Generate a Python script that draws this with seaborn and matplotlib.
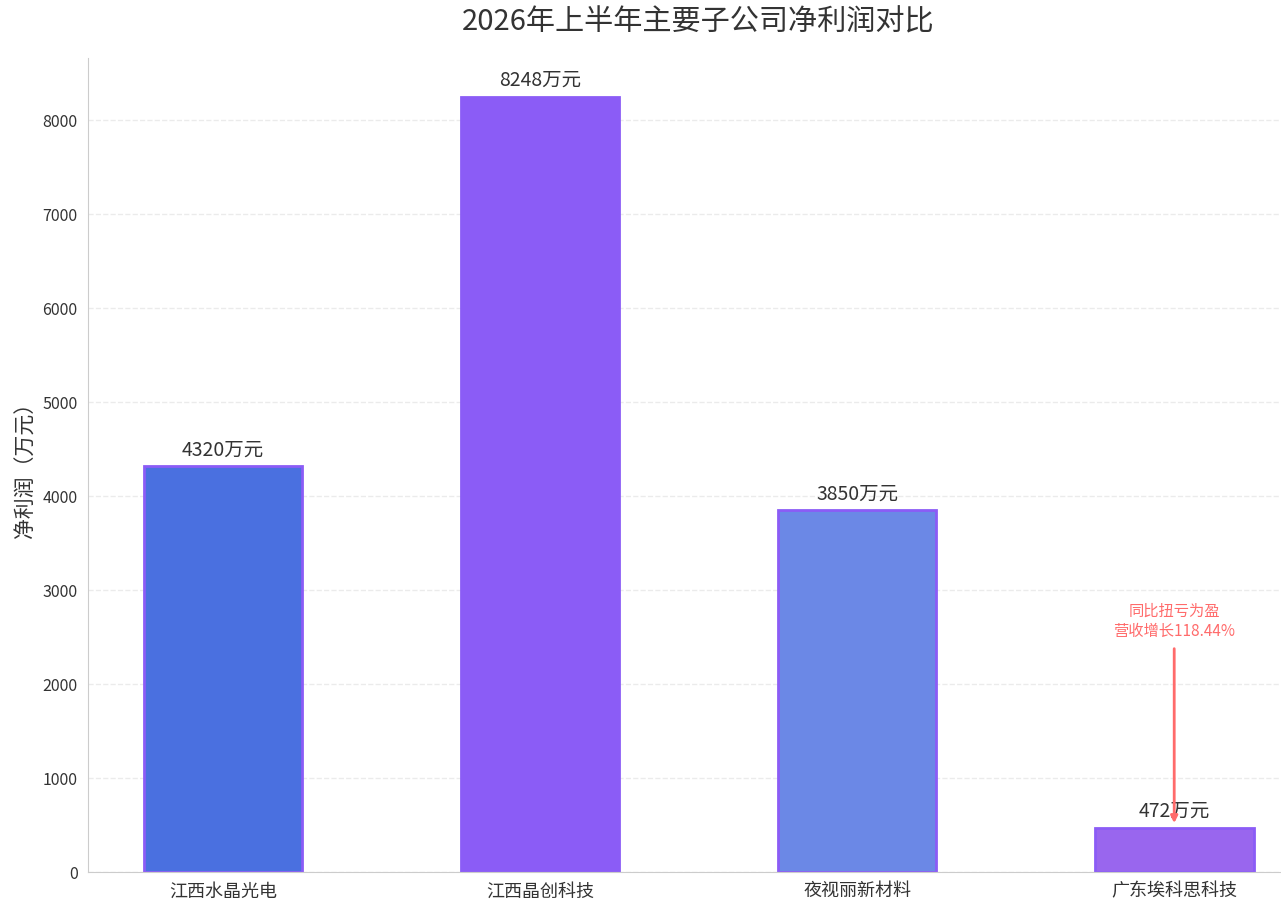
import seaborn as sns
import matplotlib.pyplot as plt
import pandas as pd

companies = ['江西水晶光电', '江西晶创科技', '夜视丽新材料', '广东埃科思科技']
profit = [4320, 8248, 3850, 472]
bar_colors = ['#4a70e0', '#8b5cf6', '#6b88e6', '#9966ee']
note = '同比扭亏为盈\n营收增长118.44%'

sns.set_style('white')
plt.rcParams['font.family'] = ['Noto Sans CJK SC', 'DejaVu Sans']
plt.rcParams['axes.unicode_minus'] = False

df = pd.DataFrame({'company': companies, 'profit': profit})

fig = plt.figure(figsize=(12.81, 9.13), dpi=100)
ax = fig.add_axes([88 / 1281, 41 / 913, 1221 / 1281, 814 / 913])

sns.barplot(data=df, x='company', y='profit', hue='company', palette=bar_colors,
            saturation=1, legend=False, width=0.5, edgecolor='#8b5cf6',
            linewidth=2, ax=ax)

for c in ax.containers:
    ax.bar_label(c, labels=[f'{int(v)}万元' for v in c.datavalues], padding=4,
                 fontsize=14, color='#333333')

ax.annotate(note, xy=(3, 520), xytext=(3, 2470), ha='center', va='bottom',
            fontsize=11, color='#ff6b6b',
            arrowprops=dict(arrowstyle='-|>', color='#ff6b6b', lw=2,
                            mutation_scale=10, shrinkA=4, shrinkB=0))

ax.set_xlim(-0.425, 3.425)
ax.set_ylim(0, 8660)
ax.set_title('2026年上半年主要子公司净利润对比', fontsize=21, color='#333333', pad=20)
ax.set_ylabel('净利润（万元）', fontsize=15, color='#333333')
ax.set_xlabel('')
ax.tick_params(axis='x', labelsize=13, colors='#333333', length=4)
ax.tick_params(axis='y', labelsize=11.5, colors='#333333', length=4)
ax.yaxis.grid(True, linestyle='--', color='#ebebeb', linewidth=1)
ax.set_axisbelow(True)
sns.despine(ax=ax)
for s in ['left', 'bottom']:
    ax.spines[s].set_color('#cccccc')

fig.savefig('out.png', dpi=100)
